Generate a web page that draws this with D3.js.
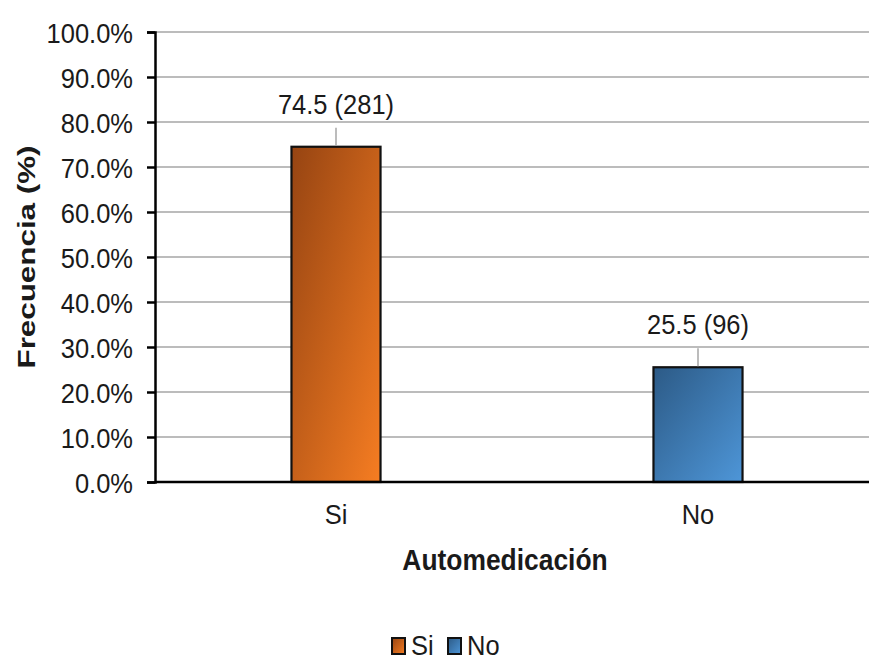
<!DOCTYPE html>
<html>
<head>
<meta charset="utf-8">
<script src="https://cdn.jsdelivr.net/npm/d3@7"></script>
<style>
  html, body { margin: 0; padding: 0; background: #fff; }
  svg { display: block; }
  text { font-family: "Liberation Sans", Arial, sans-serif; fill: #1a1a1a; }
</style>
</head>
<body>
<svg id="chart" width="869" height="660"></svg>
<script>
const categories = ["Si", "No"];
const percentages = [74.5, 25.5];
const counts = [281, 96];
const yTicks = [0, 0.1, 0.2, 0.3, 0.4, 0.5, 0.6, 0.7, 0.8, 0.9, 1.0];
const xTitle = "Automedicación";
const yTitle = "Frecuencia (%)";

const svg = d3.select("#chart");
const plotLeft = 155, plotTop = 32, plotBottom = 482, plotRight = 879;
const narrow = 0.91;

const x = d3.scaleBand().domain(categories).range([plotLeft, plotRight]).padding(0);
const y = d3.scaleLinear().domain([0, 1]).range([plotBottom, plotTop]);
const barW = x.bandwidth() * 0.246;

const defs = svg.append("defs");
const grads = [
  { id: "gSi", c0: "#964412", c1: "#f67d22" },
  { id: "gNo", c0: "#2c5a86", c1: "#4e96d8" }
];
grads.forEach(g => {
  const lg = defs.append("linearGradient").attr("id", g.id)
    .attr("x1", "0%").attr("y1", "0%").attr("x2", "100%").attr("y2", "100%");
  lg.append("stop").attr("offset", "0%").attr("stop-color", g.c0);
  lg.append("stop").attr("offset", "100%").attr("stop-color", g.c1);
});
const fillFor = c => c === "Si" ? "url(#gSi)" : "url(#gNo)";

function squeeze(sel) {
  sel.each(function () {
    const len = this.getComputedTextLength();
    d3.select(this).attr("textLength", len * narrow).attr("lengthAdjust", "spacingAndGlyphs");
  });
}

// gridlines
svg.append("g").selectAll("line").data(yTicks.filter(t => t > 0)).join("line")
  .attr("x1", plotLeft).attr("x2", plotRight)
  .attr("y1", d => y(d)).attr("y2", d => y(d))
  .attr("stroke", "#a6a6a6").attr("stroke-width", 1.5);

// y axis
const yAxis = svg.append("g").attr("transform", `translate(${plotLeft},0)`)
  .call(d3.axisLeft(y).tickValues(yTicks).tickFormat(d3.format(".1%")).tickSize(8).tickPadding(14));
yAxis.select(".domain").attr("stroke", "#000").attr("stroke-width", 2.5);
yAxis.selectAll(".tick line").attr("stroke", "#000").attr("stroke-width", 2.5);
yAxis.selectAll(".tick text").attr("font-size", 28).attr("fill", "#1a1a1a")
  .attr("font-family", "Liberation Sans, Arial, sans-serif").attr("dy", "0.36em").call(squeeze);

// bars
const data = categories.map((c, i) => ({ c, p: percentages[i], n: counts[i] }));
svg.append("g").selectAll("rect").data(data).join("rect")
  .attr("x", d => x(d.c) + x.bandwidth() / 2 - barW / 2)
  .attr("width", barW)
  .attr("y", d => y(d.p / 100))
  .attr("height", d => y(0) - y(d.p / 100))
  .attr("fill", d => fillFor(d.c))
  .attr("stroke", "#111").attr("stroke-width", 2.2);

// x axis line
svg.append("line").attr("x1", plotLeft).attr("x2", plotRight).attr("y1", plotBottom).attr("y2", plotBottom)
  .attr("stroke", "#000").attr("stroke-width", 2.5);

// leader lines and labels
svg.append("g").selectAll("line").data(data).join("line")
  .attr("x1", d => x(d.c) + x.bandwidth() / 2).attr("x2", d => x(d.c) + x.bandwidth() / 2)
  .attr("y1", d => y(d.p / 100) - 19).attr("y2", d => y(d.p / 100) - 1)
  .attr("stroke", "#a6a6a6").attr("stroke-width", 1.5);
svg.append("g").selectAll("text").data(data).join("text")
  .attr("x", d => x(d.c) + x.bandwidth() / 2)
  .attr("y", d => y(d.p / 100) - 33)
  .attr("text-anchor", "middle").attr("font-size", 28)
  .text(d => `${d.p.toFixed(1)} (${d.n})`).call(squeeze);

// x tick labels
svg.append("g").selectAll("text").data(categories).join("text")
  .attr("x", d => x(d) + x.bandwidth() / 2).attr("y", plotBottom + 42)
  .attr("text-anchor", "middle").attr("font-size", 28)
  .text(d => d).call(squeeze);

// x title
svg.append("text").attr("x", 505).attr("y", 570).attr("text-anchor", "middle")
  .attr("font-size", 29).attr("font-weight", "bold").attr("fill", "#111")
  .text(xTitle).call(squeeze);

// y title
svg.append("text").attr("transform", "translate(35,257) rotate(-90)")
  .attr("text-anchor", "middle").attr("font-size", 24).attr("font-weight", "bold").attr("fill", "#111")
  .attr("textLength", 223).attr("lengthAdjust", "spacingAndGlyphs")
  .text(yTitle);

// legend
const legend = svg.append("g");
const legX = [392, 448];
categories.forEach((c, i) => {
  legend.append("rect").attr("x", legX[i]).attr("y", 638).attr("width", 13).attr("height", 16)
    .attr("fill", fillFor(c)).attr("stroke", "#111").attr("stroke-width", 2);
  legend.append("text").attr("x", legX[i] + 19).attr("y", 655).attr("font-size", 28)
    .text(c).call(squeeze);
});
</script>
</body>
</html>
